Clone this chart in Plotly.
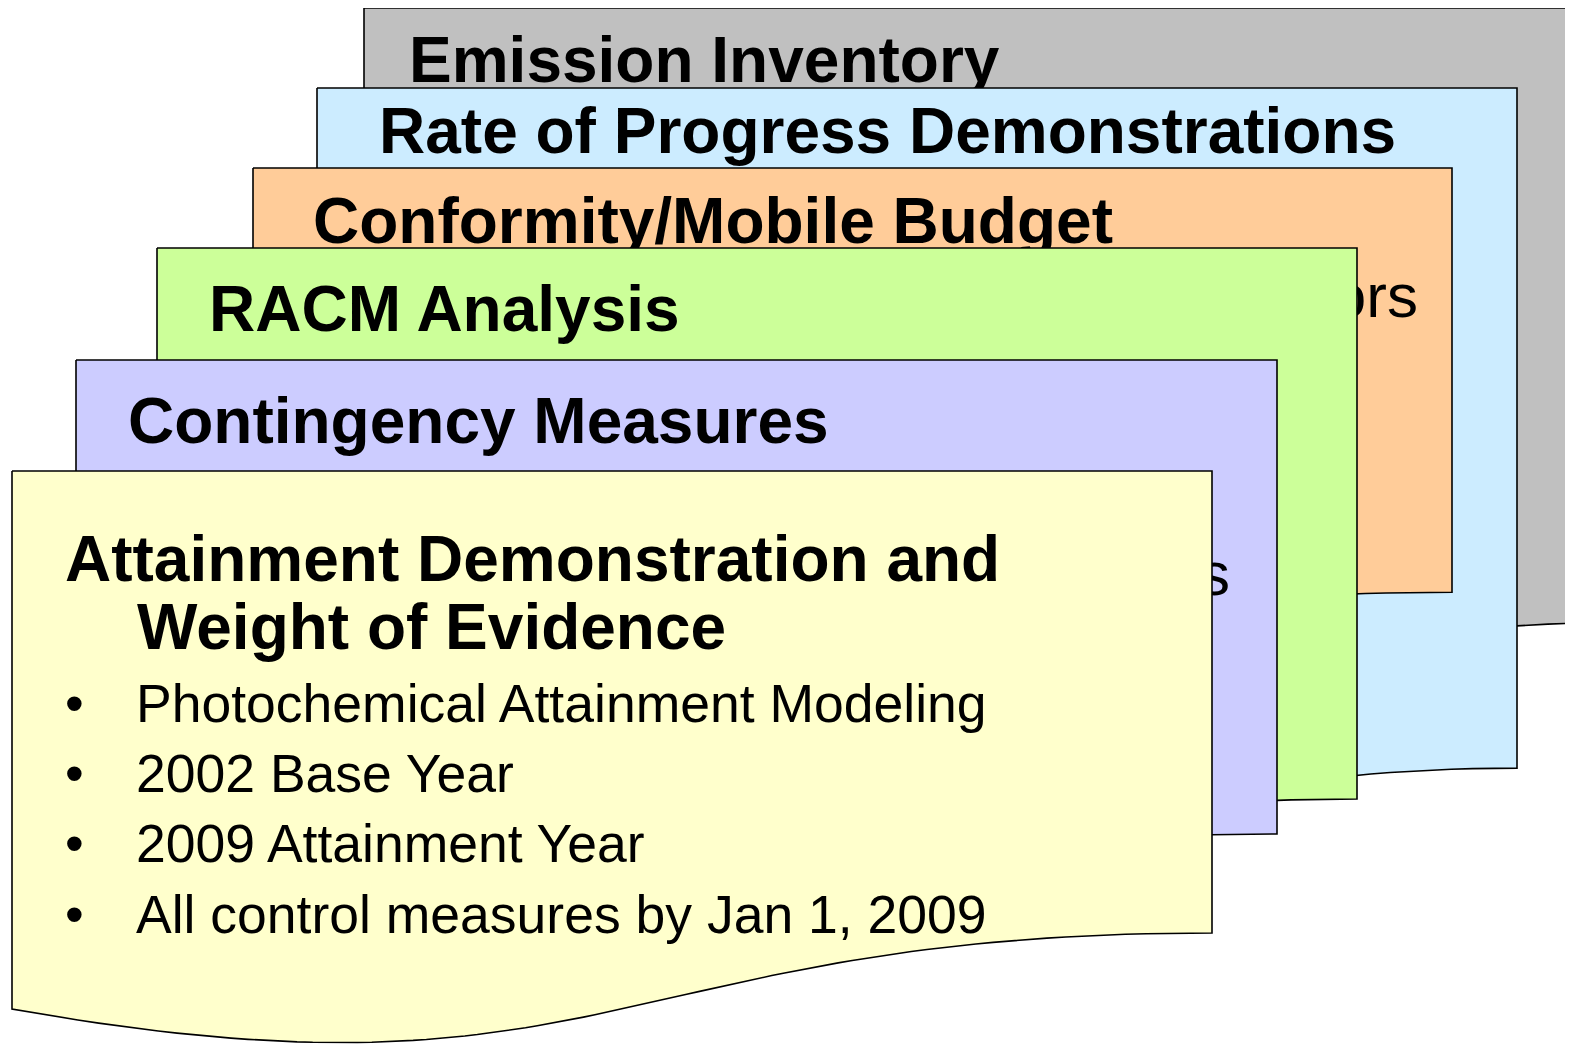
import numpy as np
import plotly.graph_objects as go

# ---- content ----
card_titles = [
    "Emission Inventory",
    "Rate of Progress Demonstrations",
    "Conformity/Mobile Budget",
    "RACM Analysis",
    "Contingency Measures",
]
hidden_tails = [None, None, "Factors", None, "Sources"]
front_title = ["Attainment Demonstration and", "Weight of Evidence"]
front_bullets = [
    "Photochemical Attainment Modeling",
    "2002 Base Year",
    "2009 Attainment Year",
    "All control measures by Jan 1, 2009",
]

# ---- layout / styles (pixels, page coordinates) ----
fills = ["#C0C0C0", "#CCECFF", "#FFCC99", "#CCFF99", "#CCCCFF", "#FFFFCC"]
cards = [  # left, top, width, height
    (364, 8, 1276, 766),
    (317, 88, 1200, 848),
    (253, 168, 1199, 529),
    (157, 248, 1200, 687),
    (76, 360, 1201, 591),
    (12, 471, 1200, 576),
]
title_pos = [(409, 80), (379, 151), (313, 241), (209, 329), (128, 441)]
tail_pos = {2: (1418, 315), 4: (1230, 593)}
front_title_pos = [(65, 579), (137, 647)]
bullet_x, bullet_text_x = 65, 136
bullet_baselines = [720, 790, 860, 931]

TITLE_FS = 64
BODY_FS = 53.5
TAIL_FS = 62
FONT = "Liberation Sans, Arial, sans-serif"
PAGE_OFF = 8  # browser body margin


def doc_path(L, T, W, H, n=80):
    xs = [L, L + W, L + W]
    ys = [T, T, T + 0.802 * H]
    p0 = np.array([L + W, T + 0.802 * H])
    p1 = np.array([L + W / 2, T + 0.802 * H])
    p2 = np.array([L + W / 2, T + 1.12 * H])
    p3 = np.array([L, T + 0.934 * H])
    t = np.linspace(0, 1, n)[1:]
    pts = ((1 - t) ** 3)[:, None] * p0 + (3 * (1 - t) ** 2 * t)[:, None] * p1 \
        + (3 * (1 - t) * t ** 2)[:, None] * p2 + (t ** 3)[:, None] * p3
    xs += list(pts[:, 0]) + [L]
    ys += list(pts[:, 1]) + [T]
    return xs, ys


def text_trace(x, y_base, txt, fs, bold, pos="middle right"):
    return go.Scatter(
        x=[x], y=[y_base - 0.22 * fs], mode="text", text=[txt],
        textposition=pos,
        textfont=dict(family=FONT, size=fs, color="black",
                      weight="bold" if bold else "normal"),
        hoverinfo="skip", showlegend=False, cliponaxis=False,
    )


fig = go.Figure()
for i, (L, T, W, H) in enumerate(cards):
    xs, ys = doc_path(L, T, W, H)
    fig.add_trace(go.Scatter(
        x=xs, y=ys, mode="lines", fill="toself", fillcolor=fills[i],
        line=dict(color="black", width=1.6), hoverinfo="skip", showlegend=False,
    ))
    if i < len(card_titles):
        tx, ty = title_pos[i]
        fig.add_trace(text_trace(tx, ty, card_titles[i], TITLE_FS, True))
        if hidden_tails[i]:
            hx, hy = tail_pos[i]
            fig.add_trace(text_trace(hx, hy, hidden_tails[i], TAIL_FS, False, "middle left"))

for (tx, ty), txt in zip(front_title_pos, front_title):
    fig.add_trace(text_trace(tx, ty, txt, TITLE_FS, True))
for yb, txt in zip(bullet_baselines, front_bullets):
    fig.add_trace(text_trace(bullet_x, yb, "•", BODY_FS, False))
    fig.add_trace(text_trace(bullet_text_x, yb, txt, BODY_FS, False))

fig.update_layout(
    width=1573 - PAGE_OFF, height=1044 - PAGE_OFF,
    margin=dict(l=0, r=0, t=0, b=0),
    paper_bgcolor="white", plot_bgcolor="white",
    xaxis=dict(range=[PAGE_OFF, 1573], visible=False, fixedrange=True),
    yaxis=dict(range=[1044, PAGE_OFF], visible=False, fixedrange=True),
)
fig.write_html("out.html")
